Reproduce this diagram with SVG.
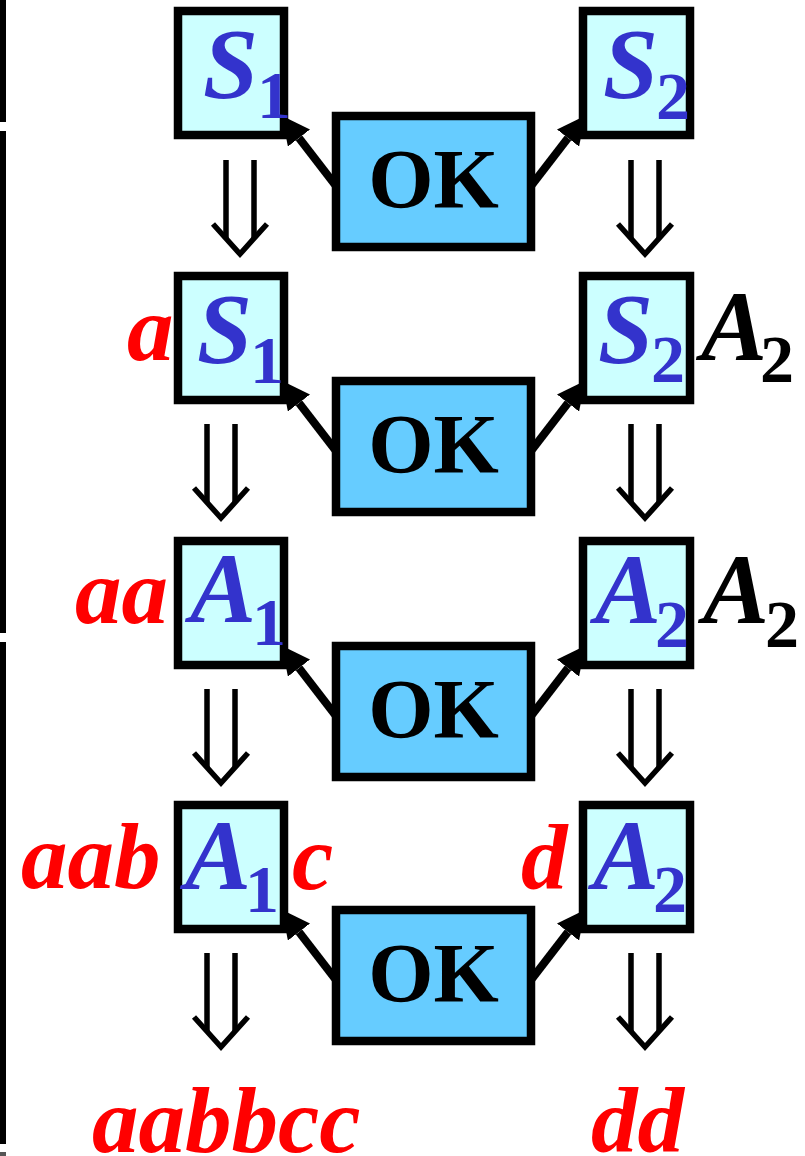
<svg xmlns="http://www.w3.org/2000/svg" width="805" height="1156" viewBox="0 0 805 1156">
<style>
.bx{fill:#CCFFFF;stroke:#000;stroke-width:8.5}
.ok{fill:#66CCFF;stroke:#000;stroke-width:8.5}
.v{font-family:"Liberation Serif","Times New Roman",serif;font-weight:bold;font-style:italic;font-size:99px}
.lc{font-family:"Liberation Serif","Times New Roman",serif;font-weight:bold;font-style:italic;font-size:93px}
.sub{font-family:"Liberation Serif","Times New Roman",serif;font-weight:bold;font-size:68px}
.okt{font-family:"Liberation Serif","Times New Roman",serif;font-weight:bold;font-size:84px;fill:#000}
.blue{fill:#3333CC}
.red{fill:#FF0000}
.blk{fill:#000}
.sh{stroke:#000;stroke-width:8;fill:none}
.dl{stroke:#000;stroke-width:5.5;fill:none}
</style>
<defs>
<marker id="ah" viewBox="0 0 28 28" refX="0" refY="14" markerWidth="28" markerHeight="28" orient="auto" markerUnits="userSpaceOnUse">
<path d="M0,0 L28,14 L0,28 z" fill="#000"/>
</marker>
<g id="dbl">
<path class="dl" d="M-14,0 V78 M14,0 V78"/>
<path class="dl" d="M-27,64 L0,94 L27,64" stroke-miterlimit="10"/>
</g>
</defs>
<g id="frame">
<rect x="0" y="0" width="6" height="122" fill="#000"/>
<rect x="0" y="131" width="6" height="502" fill="#000"/>
<rect x="0" y="642" width="6" height="502" fill="#000"/>
<rect x="0" y="1152" width="6" height="4" fill="#555"/>
</g>
<g id="connectors">
<g id="r1c">
<path class="sh" d="M336,186 L299,138" marker-end="url(#ah)"/>
<path class="sh" d="M531,186 L568,138" marker-end="url(#ah)"/>
<use href="#dbl" x="240" y="160"/>
<use href="#dbl" x="645" y="160"/>
</g>
<g id="r2c" transform="translate(0,265)">
<path class="sh" d="M336,186 L299,138" marker-end="url(#ah)"/>
<path class="sh" d="M531,186 L568,138" marker-end="url(#ah)"/>
<use href="#dbl" x="221" y="159"/>
<use href="#dbl" x="645" y="159"/>
</g>
<g id="r3c" transform="translate(0,530)">
<path class="sh" d="M336,186 L299,138" marker-end="url(#ah)"/>
<path class="sh" d="M531,186 L568,138" marker-end="url(#ah)"/>
<use href="#dbl" x="221" y="159"/>
<use href="#dbl" x="645" y="159"/>
</g>
<g id="r4c" transform="translate(0,794)">
<path class="sh" d="M336,186 L299,138" marker-end="url(#ah)"/>
<path class="sh" d="M531,186 L568,138" marker-end="url(#ah)"/>
<use href="#dbl" x="221" y="159"/>
<use href="#dbl" x="645" y="159"/>
</g>
</g>
<!-- Row 1 -->
<g id="r1-left"><rect class="bx" x="178" y="11" width="106" height="124"/>
<text class="v blue" x="203" y="97">S</text><text class="sub blue" x="257" y="118">1</text></g>
<g id="r1-right"><rect class="bx" x="583" y="11" width="107" height="124"/>
<text class="v blue" x="603" y="97">S</text><text class="sub blue" x="656" y="119">2</text></g>
<g id="r1-ok"><rect class="ok" x="336" y="116" width="195" height="131"/>
<text class="okt" x="433.5" y="208" text-anchor="middle">OK</text></g>
<!-- Row 2 -->
<g id="r2-left"><rect class="bx" x="178" y="276" width="106" height="124"/>
<text class="v blue" x="197" y="362">S</text><text class="sub blue" x="250" y="383">1</text></g>
<g id="r2-right"><rect class="bx" x="583" y="276" width="107" height="124"/>
<text class="v blue" x="598" y="362">S</text><text class="sub blue" x="651" y="382">2</text></g>
<g id="r2-ok"><rect class="ok" x="336" y="381" width="195" height="131"/>
<text class="okt" x="433.5" y="473" text-anchor="middle">OK</text></g>
<text class="lc red" x="127" y="360">a</text>
<text class="v blk" x="701" y="360">A</text><text class="sub blk" x="760" y="382">2</text>
<!-- Row 3 -->
<g id="r3-left"><rect class="bx" x="178" y="541" width="106" height="124"/>
<text class="v blue" x="190" y="622">A</text><text class="sub blue" x="252" y="645">1</text></g>
<g id="r3-right"><rect class="bx" x="583" y="541" width="107" height="124"/>
<text class="v blue" x="595" y="623">A</text><text class="sub blue" x="655" y="647">2</text></g>
<g id="r3-ok"><rect class="ok" x="336" y="646" width="195" height="131"/>
<text class="okt" x="433.5" y="738" text-anchor="middle">OK</text></g>
<text class="lc red" x="75" y="623">aa</text>
<text class="v blk" x="703" y="623">A</text><text class="sub blk" x="765" y="647">2</text>
<!-- Row 4 -->
<g id="r4-left"><rect class="bx" x="178" y="805" width="106" height="124"/>
<text class="v blue" x="185" y="889">A</text><text class="sub blue" x="245" y="912">1</text></g>
<g id="r4-right"><rect class="bx" x="583" y="805" width="107" height="124"/>
<text class="v blue" x="593" y="889">A</text><text class="sub blue" x="653" y="912">2</text></g>
<g id="r4-ok"><rect class="ok" x="336" y="910" width="195" height="131"/>
<text class="okt" x="433.5" y="1002" text-anchor="middle">OK</text></g>
<text class="lc red" x="21" y="888">aab</text>
<text class="lc red" x="292" y="889">c</text>
<text class="lc red" x="521" y="889">d</text>
<text class="lc red" x="92" y="1152">aabbcc</text>
<text class="lc red" x="591" y="1152">dd</text>
</svg>
